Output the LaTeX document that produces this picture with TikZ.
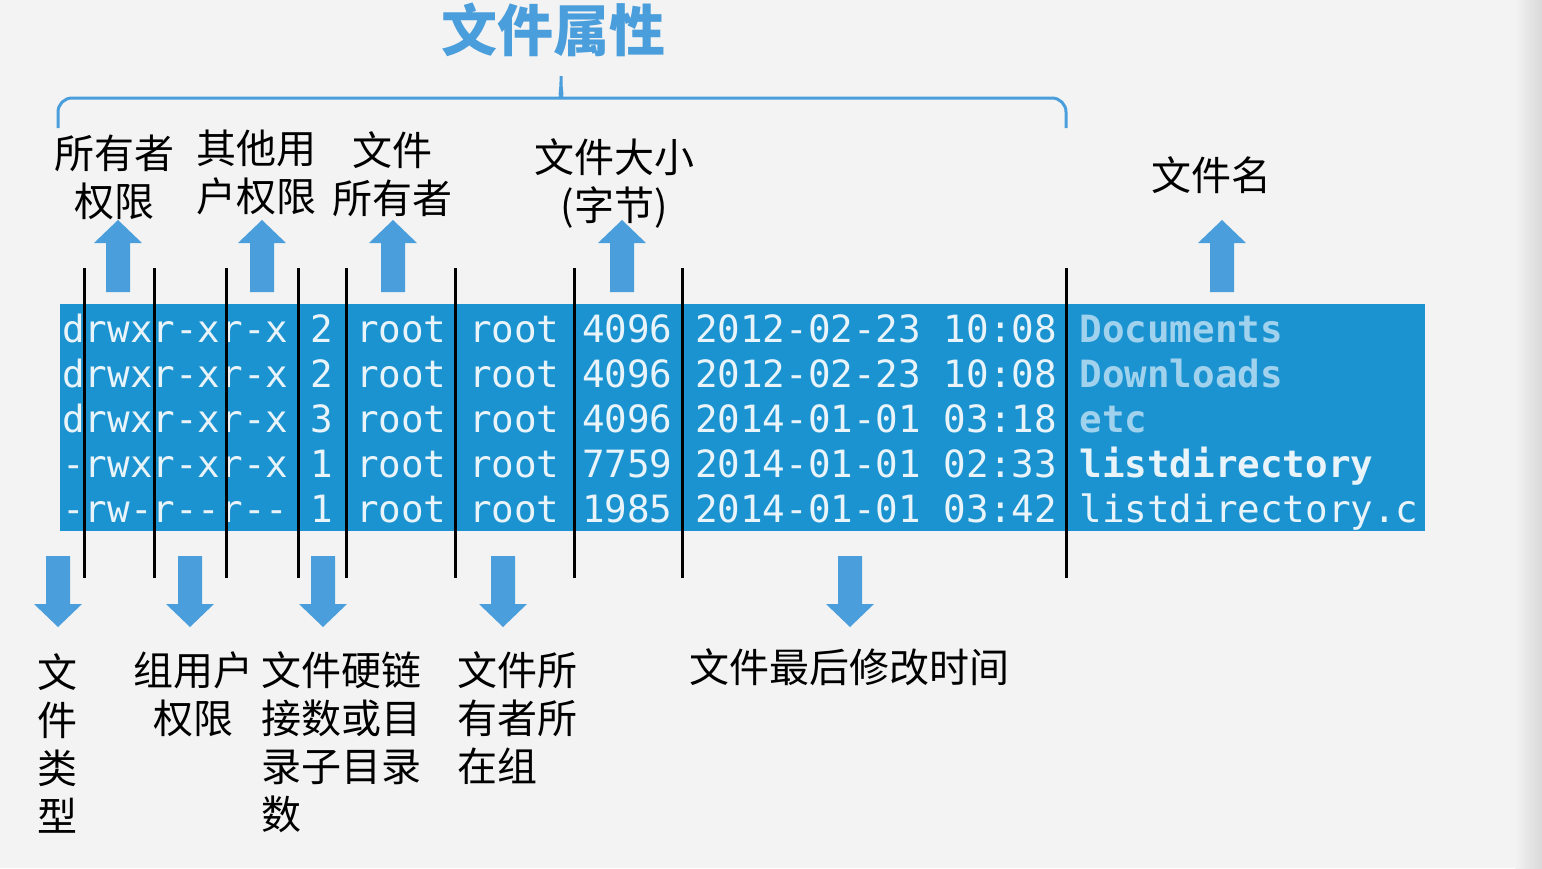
\documentclass[tikz,border=0pt]{standalone}
\usepackage{fontspec}
\usepackage{tikz}
\newfontfamily\cjk{Noto Sans CJK SC}
\newfontfamily\mono{DejaVu Sans Mono}
\definecolor{paper}{RGB}{243,243,243}
\definecolor{boxblue}{RGB}{27,147,208}
\definecolor{arrowblue}{RGB}{74,158,219}
\definecolor{monowhite}{RGB}{232,244,250}
\definecolor{namelight}{RGB}{160,210,238}
\newcommand\dirname{\bfseries\color{namelight}}
\newcommand\exename{\bfseries\color{monowhite}}
\newcommand\srcname{\color{monowhite}}

\begin{document}
\begin{tikzpicture}[x=1pt,y=-1pt,
  lbl/.style={font=\cjk\fontsize{40}{48}\selectfont,inner sep=0pt,anchor=base,align=center},
  lbll/.style={lbl,anchor=base west,align=left},
  row/.style={font=\mono\fontsize{37.55}{40}\selectfont,text=monowhite,inner sep=0pt,anchor=base west},
  sep/.style={line width=3pt,black},
  uparr/.pic={\fill[arrowblue] (-12,0) -- (-12,-49) -- (-24,-49) -- (0,-72) -- (24,-49) -- (12,-49) -- (12,0) -- cycle;},
  downarr/.pic={\fill[arrowblue] (-12,0) -- (-12,48) -- (-24,48) -- (0,71) -- (24,48) -- (12,48) -- (12,0) -- cycle;}]

\useasboundingbox (0,0) rectangle (1542,868);
\fill[paper] (0,0) rectangle (1542,868);
\shade[left color=paper,right color=gray!30] (1515,0) rectangle (1542,868);

% title and brace
\node[font=\cjk\bfseries\fontsize{56}{60}\selectfont,text=arrowblue,inner sep=0pt,anchor=base] (title) at (553,51) {文件属性};
\draw[arrowblue,line width=3pt,rounded corners=14pt] (58,128) -- (58,98) -- (549,98)
  .. controls (558,98) and (561,92) .. (561,68) .. controls (561,92) and (564,98) .. (573,98)
  -- (1066,98) -- (1066,128);

% listing
\fill[boxblue] (60,304) rectangle (1425,531);
\foreach \perm/\lnk/\sz/\dt/\nm/\nst [count=\i] in {
  drwxr-xr-x/2/4096/2012-02-23 10:08/Documents/\dirname,
  drwxr-xr-x/2/4096/2012-02-23 10:08/Downloads/\dirname,
  drwxr-xr-x/3/4096/2014-01-01 03:18/etc/\dirname,
  -rwxr-xr-x/1/7759/2014-01-01 02:33/listdirectory/\exename,
  -rw-r--r--/1/1985/2014-01-01 03:42/listdirectory.c/\srcname}
  \node[row] (row\i) at (62,{342+45*(\i-1)}) {\perm\ \lnk\ root root \sz\ \dt\ {\nst\nm}};

\foreach \x in {84,154,226,298,346,455,574,682,1066}
  \draw[sep] (\x,268) -- (\x,578);

% arrows up
\foreach \x in {118,262,393,622,1222}
  \pic at (\x,292) {uparr};
% arrows down
\foreach \x in {58,190,323,503,850}
  \pic at (\x,556) {downarr};

% top labels
\node[lbl] (owner) at (114,216) {所有者\\权限};
\node[lbl] (other) at (256,211) {其他用\\户权限};
\node[lbl] (user) at (392,213) {文件\\所有者};
\node[lbl] (size) at (614,220) {文件大小\\(字节)};
\node[lbl] (name) at (1211,190) {文件名};

% bottom labels
\node[lbl] (type) at (57,831) {文\\件\\类\\型};
\node[lbl] (group) at (193,733) {组用户\\权限};
\node[lbll] (links) at (261,829) {文件硬链\\接数或目\\录子目录\\数};
\node[lbll] (grp) at (457,781) {文件所\\有者所\\在组};
\node[lbl] (mtime) at (849,682) {文件最后修改时间};
\end{tikzpicture}
\end{document}
